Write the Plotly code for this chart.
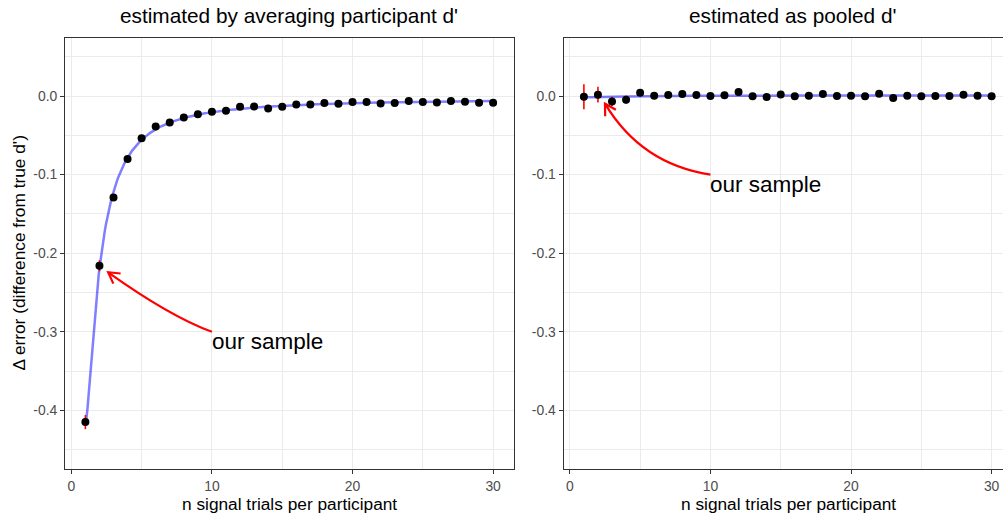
import numpy as np
import plotly.graph_objects as go

# ---------------- data ----------------
n_trials = list(range(1, 31))

avg_err = [-0.415, -0.216, -0.129, -0.080, -0.0536, -0.0387, -0.0336, -0.0272,
           -0.0230, -0.0200, -0.0187, -0.0136, -0.0132, -0.0157, -0.0136, -0.0106,
           -0.0106, -0.0089, -0.0098, -0.0077, -0.0077, -0.0094, -0.0089, -0.0064,
           -0.0077, -0.0081, -0.0064, -0.0072, -0.0085, -0.0085]
avg_se = [0.009, 0.007, 0.004, 0.003, 0.0025, 0.002, 0.002, 0.002, 0.002, 0.002,
          0.002, 0.002, 0.002, 0.002, 0.002, 0.002, 0.002, 0.002, 0.002, 0.002,
          0.002, 0.002, 0.002, 0.002, 0.002, 0.002, 0.002, 0.002, 0.002, 0.002]

pooled_err = [-0.0009, 0.0017, -0.0068, -0.0047, 0.0043, 0.0004, 0.0013, 0.0026,
              0.0013, 0.0000, 0.0009, 0.0051, -0.0004, -0.0013, 0.0021, -0.0004,
              0.0004, 0.0026, 0.0000, 0.0004, -0.0004, 0.0030, -0.0026, 0.0004,
              -0.0004, 0.0000, 0.0000, 0.0017, 0.0004, -0.0004]
pooled_se = [0.016, 0.010, 0.006, 0.005, 0.003, 0.0025, 0.002, 0.002, 0.002, 0.002,
             0.002, 0.002, 0.002, 0.002, 0.002, 0.002, 0.002, 0.002, 0.002, 0.002,
             0.002, 0.002, 0.002, 0.002, 0.002, 0.002, 0.002, 0.002, 0.002, 0.002]

panel_titles = ["estimated by averaging participant d'", "estimated as pooled d'"]
x_title = "n signal trials per participant"
y_title = "\u0394 error (difference from true d')"
x_tickvals = [0, 10, 20, 30]
x_ticktext = ["0", "10", "20", "30"]
y_tickvals = [-0.4, -0.3, -0.2, -0.1, 0.0]
y_ticktext = ["-0.4", "-0.3", "-0.2", "-0.1", "0.0"]
note_text = "our sample"
# annotation: text anchor (= arrow start) and arrow head, in data units
left_note_xy = (10, -0.3)
left_head_xy = (2.62, -0.2243)
right_note_xy = (10, -0.1)
right_head_xy = (2.50, -0.0097)

# ---------------- layout geometry ----------------
W, H = 1003, 519
ML, MT, MB, MR = 65, 37.5, 49.5, 0
PW, PH = W - ML - MR, H - MT - MB
left_px = (0, 448.5)          # panel pixel extent inside plot area
right_px = (498.5, PW)
XR_L = [-0.45, 31.45]
unit_px = (left_px[1] - left_px[0]) / (XR_L[1] - XR_L[0])
XR_R = [-0.45, -0.45 + (right_px[1] - right_px[0]) / unit_px]
YR = [-0.4747, 0.0739]
FONT = "Liberation Sans, Arial, Helvetica, sans-serif"


def to_px(panel, x, y):
    p0, p1 = (left_px if panel == 0 else right_px)
    xr = XR_L if panel == 0 else XR_R
    px = ML + p0 + (x - xr[0]) / (xr[1] - xr[0]) * (p1 - p0)
    py = MT + (YR[1] - y) / (YR[1] - YR[0]) * PH
    return np.array([px, py])


def to_data(panel, p):
    p0, p1 = (left_px if panel == 0 else right_px)
    xr = XR_L if panel == 0 else XR_R
    x = xr[0] + (p[0] - ML - p0) / (p1 - p0) * (xr[1] - xr[0])
    y = YR[1] - (p[1] - MT) / PH * (YR[1] - YR[0])
    return x, y


def smooth_curve(y, deg):
    n = np.array(n_trials, dtype=float)
    coef = np.polyfit(1.0 / n, np.array(y), deg)
    grid = np.linspace(n.min(), n.max(), 400)
    return grid, np.polyval(coef, 1.0 / grid)


fig = go.Figure()

for k, (yy, ss, deg) in enumerate([(avg_err, avg_se, 3), (pooled_err, pooled_se, 2)]):
    xa = "x" if k == 0 else "x2"
    ya = "y" if k == 0 else "y2"
    gx, gy = smooth_curve(yy, deg)
    fig.add_trace(go.Scatter(x=gx, y=gy, mode="lines", xaxis=xa, yaxis=ya,
                             line=dict(color="rgba(0,0,255,0.5)", width=2.5),
                             showlegend=False, hoverinfo="skip"))
    fig.add_trace(go.Scatter(x=n_trials, y=yy, mode="markers", xaxis=xa, yaxis=ya,
                             marker=dict(color="black", size=8),
                             error_y=dict(type="data", array=ss, visible=True,
                                          color="red", thickness=1.6, width=0),
                             showlegend=False))

shapes = []
annotations = []


def add_arrow(panel, start, head, along, bend):
    S = to_px(panel, *start)
    E = to_px(panel, *head)
    D = E - S
    L = np.hypot(*D)
    u = D / L
    perp = np.array([u[1], -u[0]])
    C = S + along * D + bend * L * perp
    xa = "x" if panel == 0 else "x2"
    ya = "y" if panel == 0 else "y2"
    s, c, e = to_data(panel, S), to_data(panel, C), to_data(panel, E)
    shapes.append(dict(type="path", xref=xa, yref=ya,
                       path=f"M {s[0]},{s[1]} Q {c[0]},{c[1]} {e[0]},{e[1]}",
                       line=dict(color="red", width=2.2)))
    v = (E - C) / np.hypot(*(E - C))
    pts = []
    for ang in (np.radians(30), -np.radians(30)):
        rot = np.array([v[0] * np.cos(ang) - v[1] * np.sin(ang),
                        v[0] * np.sin(ang) + v[1] * np.cos(ang)])
        pts.append(to_data(panel, E - 12.5 * rot))
    shapes.append(dict(type="path", xref=xa, yref=ya,
                       path=f"M {pts[0][0]},{pts[0][1]} L {e[0]},{e[1]} L {pts[1][0]},{pts[1][1]}",
                       line=dict(color="red", width=2.2)))
    annotations.append(dict(x=start[0], y=start[1], xref=xa, yref=ya, text=note_text,
                            showarrow=False, xanchor="left", yanchor="top",
                            xshift=-2, yshift=5,
                            font=dict(size=22.5, color="black", family=FONT)))


add_arrow(0, left_note_xy, left_head_xy, 0.364, 0.063)
add_arrow(1, right_note_xy, right_head_xy, 0.496, 0.236)

# titles
lc = (left_px[0] + left_px[1]) / 2 / PW
rc = (right_px[0] + 224.5 + 4) / PW
for xc, t in zip([lc, rc], panel_titles):
    annotations.append(dict(x=xc, y=(MT + PH - 15) / PH, xref="paper", yref="paper",
                            text=t, showarrow=False, xanchor="center", yanchor="middle",
                            font=dict(size=20.8, color="black", family=FONT)))
# x titles
for xc in [lc, (right_px[0] + 224.5) / PW]:
    annotations.append(dict(x=xc, y=(MT + PH - 505) / PH, xref="paper", yref="paper",
                            text=x_title, showarrow=False, xanchor="center", yanchor="middle",
                            font=dict(size=17.3, color="black", family=FONT)))
# y title
annotations.append(dict(x=(18 - ML) / PW, y=0.5, xref="paper", yref="paper",
                        text=y_title, showarrow=False, textangle=-90,
                        xanchor="center", yanchor="middle",
                        font=dict(size=17.3, color="black", family=FONT)))

axis_common = dict(showline=True, mirror=True, linecolor="#333333", linewidth=1,
                   ticks="outside", ticklen=4, tickcolor="#333333", tickwidth=1,
                   showgrid=True, gridcolor="#EBEBEB", gridwidth=1.1, zeroline=False,
                   tickfont=dict(size=13.9, color="#4D4D4D", family=FONT))

fig.update_layout(
    width=W, height=H,
    margin=dict(l=ML, r=MR, t=MT, b=MB),
    paper_bgcolor="white", plot_bgcolor="white",
    showlegend=False,
    xaxis=dict(domain=[left_px[0] / PW, left_px[1] / PW], range=XR_L,
               tickvals=x_tickvals, ticktext=x_ticktext, anchor="y",
               minor=dict(dtick=5, tick0=0, showgrid=True, gridcolor="#EBEBEB", gridwidth=0.55, ticks=""),
               **axis_common),
    yaxis=dict(domain=[0, 1], range=YR, tickvals=y_tickvals, ticktext=y_ticktext, anchor="x",
               minor=dict(dtick=0.05, tick0=0, showgrid=True, gridcolor="#EBEBEB", gridwidth=0.55, ticks=""),
               **axis_common),
    xaxis2=dict(domain=[right_px[0] / PW, 1], range=XR_R,
                tickvals=x_tickvals, ticktext=x_ticktext, anchor="y2",
                minor=dict(dtick=5, tick0=0, showgrid=True, gridcolor="#EBEBEB", gridwidth=0.55, ticks=""),
                **axis_common),
    yaxis2=dict(domain=[0, 1], range=YR, tickvals=y_tickvals, ticktext=y_ticktext, anchor="x2",
                minor=dict(dtick=0.05, tick0=0, showgrid=True, gridcolor="#EBEBEB", gridwidth=0.55, ticks=""),
                **axis_common),
    shapes=shapes,
    annotations=annotations,
    font=dict(family=FONT),
)

fig.write_html("out.html")
